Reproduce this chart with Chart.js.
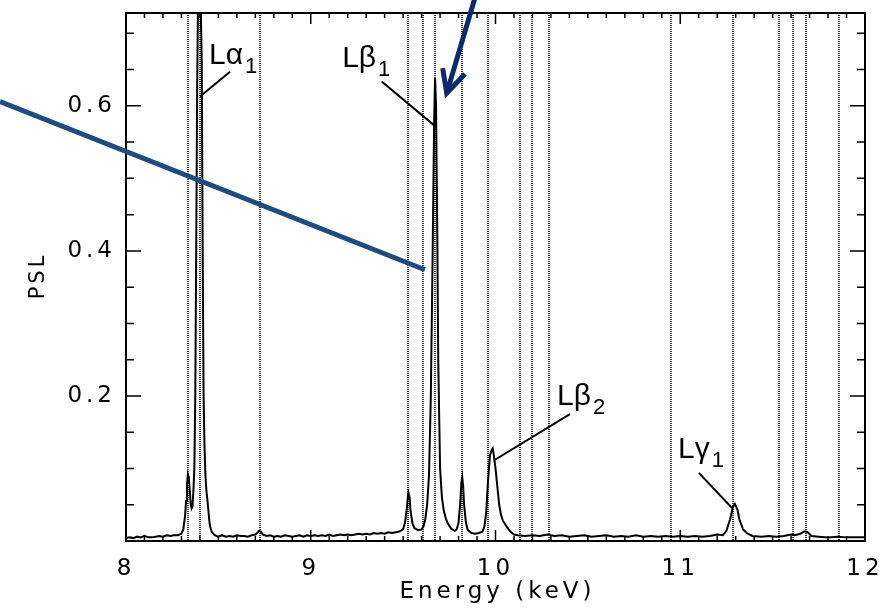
<!DOCTYPE html>
<html>
<head>
<meta charset="utf-8">
<script src="https://cdn.jsdelivr.net/npm/chart.js@4.4.1/dist/chart.umd.min.js"></script>
<style>
  html, body { margin: 0; padding: 0; background: #fff; }
  #wrap { width: 885px; height: 608px; }
</style>
</head>
<body>
<div id="wrap"><canvas id="myChart" width="885" height="608"></canvas></div>
<script>
// spectrum
const energy = [
  8.00, 8.02, 8.04, 8.06, 8.08, 8.10, 8.12, 8.14, 8.16, 8.18, 8.20, 8.22, 8.24, 8.26, 8.28, 8.30,
  8.31, 8.32, 8.325, 8.33, 8.335, 8.34, 8.345, 8.35, 8.355, 8.36, 8.365, 8.37, 8.375, 8.38, 8.385,
  8.39, 8.40, 8.41, 8.415, 8.42, 8.425, 8.43, 8.435, 8.44, 8.445, 8.45, 8.455, 8.465, 8.48,
  8.50, 8.52, 8.54, 8.56, 8.58, 8.60, 8.62, 8.64, 8.66, 8.68, 8.70, 8.71, 8.72, 8.73, 8.74, 8.76,
  8.78, 8.80, 8.82, 8.84, 8.86, 8.88, 8.90, 8.92, 8.94, 8.96, 8.98, 9.00, 9.02, 9.04, 9.06, 9.08,
  9.10, 9.12, 9.14, 9.16, 9.18, 9.20, 9.22, 9.24, 9.26, 9.28, 9.30, 9.32, 9.34, 9.36, 9.38, 9.40,
  9.42, 9.44, 9.46, 9.48, 9.50, 9.51, 9.52, 9.528, 9.535, 9.54, 9.55, 9.56, 9.58, 9.60, 9.61,
  9.62, 9.63, 9.64, 9.65, 9.66, 9.668, 9.673, 9.678, 9.685, 9.69, 9.70, 9.71, 9.72, 9.73, 9.74,
  9.76, 9.78, 9.79, 9.80, 9.81, 9.815, 9.82, 9.825, 9.83, 9.84, 9.85, 9.87, 9.89, 9.91, 9.93,
  9.94, 9.95, 9.96, 9.97, 9.98, 9.985, 9.99, 10.00, 10.01, 10.02, 10.03, 10.04, 10.06, 10.08,
  10.10, 10.12, 10.16, 10.20, 10.24, 10.28, 10.32, 10.36, 10.40, 10.44, 10.48, 10.52, 10.56,
  10.60, 10.64, 10.68, 10.72, 10.76, 10.80, 10.84, 10.88, 10.92, 10.96, 11.00, 11.04, 11.08,
  11.12, 11.16, 11.20, 11.23, 11.25, 11.27, 11.285, 11.296, 11.31, 11.32, 11.34, 11.36, 11.39,
  11.44, 11.48, 11.52, 11.56, 11.58, 11.60, 11.62, 11.65, 11.67, 11.68, 11.69, 11.71, 11.75,
  11.80, 11.85, 11.90, 11.95, 12.00
];
const psl = [
  0.004, 0.005, 0.004, 0.006, 0.005, 0.007, 0.005, 0.005, 0.006, 0.007, 0.006, 0.008, 0.007, 0.008, 0.008, 0.010,
  0.016, 0.035, 0.055, 0.078, 0.092, 0.088, 0.070, 0.052, 0.045, 0.048, 0.070, 0.100, 0.200, 0.400, 0.620,
  0.750, 0.800, 0.660, 0.400, 0.200, 0.130, 0.090, 0.070, 0.058, 0.045, 0.030, 0.020, 0.012, 0.008,
  0.006, 0.008, 0.006, 0.007, 0.006, 0.008, 0.007, 0.007, 0.006, 0.008, 0.009, 0.011, 0.014, 0.013, 0.009, 0.007,
  0.008, 0.006, 0.007, 0.006, 0.008, 0.007, 0.006, 0.007, 0.008, 0.006, 0.008, 0.007, 0.008, 0.007, 0.008, 0.007,
  0.009, 0.007, 0.008, 0.009, 0.008, 0.009, 0.008, 0.009, 0.010, 0.009, 0.010, 0.009, 0.011, 0.010, 0.011, 0.010,
  0.012, 0.011, 0.012, 0.013, 0.016, 0.025, 0.045, 0.067, 0.060, 0.042, 0.025, 0.018, 0.015, 0.016, 0.020,
  0.030, 0.050, 0.090, 0.200, 0.400, 0.580, 0.638, 0.600, 0.420, 0.250, 0.100, 0.060, 0.042, 0.032, 0.025,
  0.017, 0.014, 0.016, 0.025, 0.055, 0.080, 0.088, 0.075, 0.050, 0.025, 0.015, 0.011, 0.010, 0.011, 0.013,
  0.020, 0.040, 0.085, 0.118, 0.126, 0.128, 0.120, 0.100, 0.075, 0.050, 0.036, 0.028, 0.020, 0.013,
  0.009, 0.008, 0.007, 0.008, 0.007, 0.009, 0.007, 0.008, 0.006, 0.007, 0.008, 0.006, 0.007,
  0.008, 0.006, 0.007, 0.006, 0.008, 0.006, 0.007, 0.006, 0.007, 0.006, 0.007, 0.006, 0.007,
  0.006, 0.007, 0.009, 0.008, 0.014, 0.030, 0.047, 0.051, 0.043, 0.030, 0.016, 0.011, 0.007,
  0.006, 0.007, 0.006, 0.007, 0.008, 0.009, 0.008, 0.010, 0.013, 0.013, 0.012, 0.007, 0.006,
  0.005, 0.006, 0.005, 0.005, 0.005
];
// energies of the dotted reference lines (keV)
const lineEnergies = [8.335, 8.398, 8.724, 9.525, 9.606, 9.672, 9.819, 9.962, 10.13, 10.20, 10.29,
  10.948, 11.285, 11.536, 11.608, 11.681, 11.861];
const xTicks = [8, 9, 10, 11, 12];
const yTicks = [0.2, 0.4, 0.6];
// peak labels: text anchor + leader line, in keV / PSL
const peakLabels = [
  { main: "L\u03b1", sub: "1", at: [8.449, 0.657], leader: [[8.4005, 0.613], [8.563, 0.647]] },
  { main: "L\u03b2", sub: "1", at: [9.17, 0.654], leader: [[9.384, 0.6335], [9.678, 0.571]] },
  { main: "L\u03b2", sub: "2", at: [10.333, 0.1876], leader: [[9.997, 0.112], [10.403, 0.175]] },
  { main: "L\u03b3", sub: "1", at: [10.988, 0.1145], leader: [[11.101, 0.094], [11.28, 0.0455]] }
];
// overlaid pointer line and arrow (keV / PSL)
const pointerLine = [[7.318, 0.606], [9.618, 0.374]];
const arrowShaft = [[9.889, 0.749], [9.736, 0.6175]];
const arrowHead = [[9.714, 0.652], [9.736, 0.6175], [9.835, 0.644]];

const noPad = (s) => {
  s.paddingTop = 0; s.paddingBottom = 0; s.paddingLeft = 0; s.paddingRight = 0;
};

const overlay = {
  id: "overlay",
  beforeDraw(chart) {
    chart.ctx.letterSpacing = "4px";
  },
  beforeDatasetsDraw(chart) {
    const { ctx, chartArea: a, scales: { x } } = chart;
    ctx.letterSpacing = "0px";
    ctx.save();
    ctx.strokeStyle = "#333";
    ctx.lineWidth = 2;
    ctx.setLineDash([1, 1]);
    lineEnergies.forEach((e) => {
      const px = Math.round(x.getPixelForValue(e));
      ctx.beginPath();
      ctx.moveTo(px, a.top);
      ctx.lineTo(px, a.bottom);
      ctx.stroke();
    });
    ctx.restore();
  },
  afterDatasetsDraw(chart) {
    const { ctx, chartArea: a, scales: { x, y } } = chart;
    const P = (p) => [x.getPixelForValue(p[0]), y.getPixelForValue(p[1])];
    ctx.save();
    ctx.letterSpacing = "0px";
    ctx.strokeStyle = "#000";
    // frame
    ctx.lineWidth = 2;
    ctx.strokeRect(a.left, a.top, a.right - a.left, a.bottom - a.top);
    // ticks
    ctx.lineWidth = 1.5;
    ctx.beginPath();
    for (let i = 0; i <= 40; i++) {
      const v = 8 + i * 0.1;
      const px = x.getPixelForValue(v);
      const major = i % 10 === 0;
      const len = major ? 11 : 5;
      ctx.moveTo(px, a.bottom); ctx.lineTo(px, a.bottom - len);
      ctx.moveTo(px, a.top); ctx.lineTo(px, a.top + len);
    }
    for (let i = 1; i <= 14; i++) {
      const v = i * 0.05;
      const py = y.getPixelForValue(v);
      const len = i % 4 === 0 ? 15 : 8;
      ctx.moveTo(a.left, py); ctx.lineTo(a.left + len, py);
      ctx.moveTo(a.right, py); ctx.lineTo(a.right - len, py);
    }
    ctx.stroke();

    // axis titles
    ctx.fillStyle = "#000";
    ctx.letterSpacing = "4px";
    ctx.font = "23px 'DejaVu Sans'";
    ctx.textAlign = "center";
    ctx.textBaseline = "alphabetic";
    ctx.fillText("Energy (keV)", (a.left + a.right) / 2 + 2, 598);
    ctx.letterSpacing = "3px";
    ctx.font = "21px 'DejaVu Sans'";
    ctx.translate(44, 277);
    ctx.rotate(-Math.PI / 2);
    ctx.fillText("PSL", 1, 0);
    ctx.restore();

    // peak labels
    ctx.save();
    ctx.letterSpacing = "0px";
    ctx.fillStyle = "#000";
    ctx.strokeStyle = "#000";
    ctx.lineWidth = 2;
    ctx.textAlign = "left";
    ctx.textBaseline = "alphabetic";
    peakLabels.forEach((l) => {
      const [tx, ty] = P(l.at);
      ctx.font = "30px 'Liberation Sans'";
      ctx.fillText(l.main, tx, ty);
      const w = ctx.measureText(l.main).width;
      ctx.font = "22px 'Liberation Sans'";
      ctx.fillText(l.sub, tx + w + 2, ty + 9);
      const p1 = P(l.leader[0]), p2 = P(l.leader[1]);
      ctx.beginPath();
      ctx.moveTo(p1[0], p1[1]);
      ctx.lineTo(p2[0], p2[1]);
      ctx.stroke();
    });
    ctx.restore();

    // blue pointer line and arrow
    ctx.save();
    ctx.lineCap = "butt";
    ctx.strokeStyle = "#1e4b82";
    ctx.lineWidth = 5;
    ctx.beginPath();
    let p = P(pointerLine[0]); ctx.moveTo(p[0], p[1]);
    p = P(pointerLine[1]); ctx.lineTo(p[0], p[1]);
    ctx.stroke();
    ctx.strokeStyle = "#0c2b6b";
    ctx.lineWidth = 5;
    ctx.beginPath();
    p = P(arrowShaft[0]); ctx.moveTo(p[0], p[1]);
    p = P(arrowShaft[1]); ctx.lineTo(p[0], p[1]);
    ctx.stroke();
    ctx.lineJoin = "miter";
    ctx.beginPath();
    arrowHead.forEach((q, i) => {
      const r = P(q);
      if (i === 0) ctx.moveTo(r[0], r[1]); else ctx.lineTo(r[0], r[1]);
    });
    ctx.stroke();
    ctx.restore();
  }
};

const ctx = document.getElementById("myChart");
new Chart(ctx, {
  type: "scatter",
  data: {
    datasets: [
      {
        data: energy.map((e, i) => ({ x: e, y: psl[i] })),
        showLine: true,
        borderColor: "#000",
        borderWidth: 2,
        pointRadius: 0,
        tension: 0,
      },
    ],
  },
  options: {
    responsive: false,
    devicePixelRatio: 1,
    animation: false,
    layout: { padding: { top: 13, right: 20, left: 0, bottom: 0 } },
    plugins: { legend: { display: false }, tooltip: { enabled: false } },
    scales: {
      x: {
        type: "linear",
        min: 8,
        max: 12,
        afterBuildTicks: (s) => { s.ticks = xTicks.map((v) => ({ value: v })); },
        afterFit: (s) => { s.height = 67; noPad(s); },
        grid: { display: false, drawTicks: false },
        border: { display: false },
        ticks: {
          color: "#000",
          padding: 14,
          maxRotation: 0,
          font: { family: "'DejaVu Sans'", size: 23 },
          callback: (v) => String(v),
        },
      },
      y: {
        type: "linear",
        min: 0,
        max: 0.728,
        afterBuildTicks: (s) => { s.ticks = yTicks.map((v) => ({ value: v })); },
        afterFit: (s) => { s.width = 126; noPad(s); },
        grid: { display: false, drawTicks: false },
        border: { display: false },
        ticks: {
          color: "#000",
          padding: 10,
          font: { family: "'DejaVu Sans'", size: 23 },
          callback: (v) => v.toFixed(1),
        },
      },
    },
  },
  plugins: [overlay],
});
</script>
</body>
</html>
